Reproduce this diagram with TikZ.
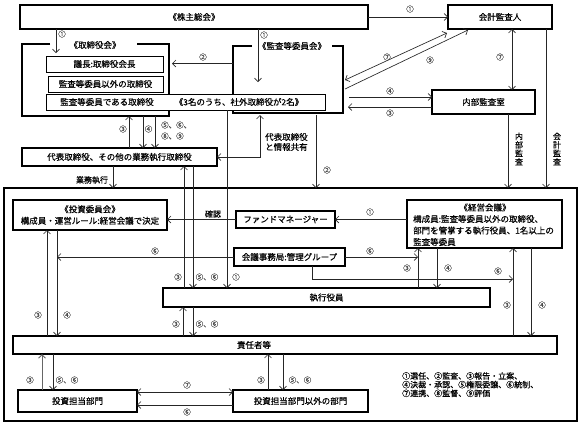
\documentclass[tikz,border=0pt]{standalone}
\usepackage{fontspec}
\setmainfont{Noto Sans CJK JP}[FakeBold=0.4,AutoFakeBold=0.4]
\usetikzlibrary{arrows.meta,calc}
\begin{document}
\begin{tikzpicture}[x=1pt,y=-1pt,
  bx/.style={draw,line width=1.5pt,fill=white,inner sep=0pt,outer sep=0pt,font=\fontsize{8.5}{11.5}\selectfont},
  ib/.style={draw,line width=0.7pt,fill=white,inner sep=0pt,outer sep=0pt,font=\fontsize{8.5}{11.5}\selectfont},
  frame/.style={line width=1.5pt},
  arr/.style={-{Straight Barb[length=3.5pt,width=7pt]},line width=0.65pt,black!85},
  darr/.style={{Straight Barb[length=3.5pt,width=7pt]}-{Straight Barb[length=3.5pt,width=7pt]},line width=0.65pt,black!85},
  lb/.style={font=\fontsize{7.5}{8}\selectfont,inner sep=0pt,text=black!70},
  tx/.style={font=\fontsize{8.5}{10}\selectfont,inner sep=0pt},
  sx/.style={font=\fontsize{8}{8.5}\selectfont,inner sep=0pt},
]
\useasboundingbox[fill=white] (0,0) rectangle (587,426);

% ---------- top area ----------
\node[bx,minimum width=348pt,minimum height=24pt] (kabu) at (194,17) {《株主総会》};
\node[bx,minimum width=104pt,minimum height=24pt] (kaikei) at (500,17) {会計監査人};

% board of directors frame
\node[inner sep=0pt,outer sep=0pt,minimum width=147pt,minimum height=72pt] (tori) at (95.5,80) {};
\draw[frame] ([xshift=28pt]tori.north west) -- (tori.north west) -- (tori.south west) -- (tori.south east) -- (tori.north east) -- ([xshift=-32pt]tori.north east);
\node[tx] (toriT) at (95,45) {《取締役会》};

% audit committee frame
\node[inner sep=0pt,outer sep=0pt,minimum width=110pt,minimum height=67pt] (kansa) at (288,79.5) {};
\draw[frame] ([xshift=19pt]kansa.north west) -- (kansa.north west) -- (kansa.south west) -- (kansa.south east) -- (kansa.north east) -- ([xshift=-11pt]kansa.north east);
\node[tx] (kansaT) at (292,46) {《監査等委員会》};

\node[ib,minimum width=117pt,minimum height=16pt] (gicho) at (104.5,64) {議長:取締役会長};
\node[ib,minimum width=115pt,minimum height=16pt] (igai) at (105.5,84) {監査等委員以外の取締役};
\node[ib,minimum width=279pt,minimum height=16pt] (dearu) at (185.5,102) {};
\node[tx] (dearuA) at (107,102) {監査等委員である取締役};
\node[tx] (dearuB) at (239,102) {《3名のうち、社外取締役が2名》};

\node[bx,minimum width=103pt,minimum height=24pt] (naibu) at (483.5,102) {内部監査室};
\node[bx,minimum width=195pt,minimum height=18pt] (daihyo) at (119.5,157) {代表取締役、その他の業務執行取締役};

% ---------- lower area ----------
\node[draw,line width=1.5pt,inner sep=0pt,outer sep=0pt,minimum width=573pt,minimum height=233pt] (big) at (290.5,304.5) {};
\node[bx,minimum width=154pt,minimum height=30pt,align=center] (toushi) at (90,215) {《投資委員会》\\構成員・運営ルール:経営会議で決定};
\node[bx,minimum width=99pt,minimum height=17pt] (fund) at (285.5,219.5) {ファンドマネージャー};
\node[bx,minimum width=111pt,minimum height=18pt] (jimu) at (289.5,257) {会議事務局:管理グループ};
\node[bx,minimum width=155pt,minimum height=48pt] (keiei) at (484.5,224) {};
\node[tx] (keieiT) at (485,207.5) {《経営会議》};
\node[tx,anchor=west,align=left,font=\fontsize{8.5}{11.5}\selectfont] (keieiB) at (413,230.5) {構成員:監査等委員以外の取締役、\\部門を管掌する執行役員、1名以上の\\監査等委員};
\node[bx,minimum width=327pt,minimum height=19pt] (shikko) at (326.5,297.5) {執行役員};
\node[bx,minimum width=544pt,minimum height=18pt] (sekinin) at (285,345) {};
\node[tx] (sekininT) at (254,345) {責任者等};
\node[bx,minimum width=119pt,minimum height=22pt] (tantou) at (77.5,401) {投資担当部門};
\node[bx,minimum width=135pt,minimum height=22pt] (igaibu) at (300.5,401) {投資担当部門以外の部門};

% ---------- helper coordinates ----------
\foreach \xx in {42,47,53,57,113,129,143,155,183,184,193,227,260,268,283,312,316,418,437,508,512,513,531,546}
  {\coordinate (X\xx) at (\xx,0);}
\foreach \yy in {157,279,392,405}
  {\coordinate (Y\yy) at (0,\yy);}
\coordinate (E1) at (56,53);
\coordinate (E2) at (258,82);
\coordinate (E3) at (172,63.5);
\coordinate (S4) at (349,97);
\coordinate (E5) at (348,107);

% ---------- connectors: top ----------
\draw[arr] (kabu.east) -- (kaikei.west);
\node[lb] at (410,9) {①};
\draw[arr] (kabu.south -| E1) -- (E1);
\node[lb] at (62,34) {①};
\draw[arr] (kabu.south -| E2) -- (E2);
\node[lb] at (264,35) {①};
\draw[arr] (kansa.west |- E3) -- (E3);
\node[lb] at (203,57) {②};
\draw[darr] ([shift={(2,34)}]kansa.north east) -- ([shift={(-1,4)}]kaikei.south west);
\node[lb] at (387,57) {⑦};
\draw[arr] ([shift={(2,43)}]kansa.north east) -- ([shift={(20,1)}]kaikei.south west);
\node[lb] at (430,60) {⑨};
\draw[darr] (kaikei.south -| X512) -- (naibu.north -| X512);
\node[lb] at (500,57) {⑦};
\draw[arr] (S4) -- (naibu.west |- S4);
\node[lb] at (390,91) {④};
\draw[arr] (naibu.west |- E5) -- (E5);
\node[lb] at (390,113) {③};
\draw[arr] (kaikei.south -| X546) -- (big.north -| X546);
\node[sx,align=center] (kaikeiL) at (557,149) {会\\計\\監\\査};
\draw[arr] (naibu.south -| X508) -- (big.north -| X508);
\node[sx,align=center] (naibuL) at (519,149) {内\\部\\監\\査};
\draw[arr] ([yshift=-2pt]kansa.south -| X316) -- (big.north -| X316);
\node[lb] at (327,170) {②};
\draw[darr] ([yshift=-2pt]kansa.south -| X260) -- (X260 |- Y157) -- (daihyo.east |- Y157);
\node[tx,anchor=west,align=left] (joho) at (265,142) {代表取締役\\と情報共有};

\draw[arr] (daihyo.north -| X129) -- (tori.south -| X129);
\node[lb] at (123,129) {③};
\draw[arr] (tori.south -| X143) -- (daihyo.north -| X143);
\node[lb] at (148.5,129) {④};
\draw[arr] (tori.south -| X155) -- (daihyo.north -| X155);
\node[lb,anchor=west] at (161,125) {⑤、⑥、};
\node[lb,anchor=west] at (161,136) {⑧、⑨};
\draw[arr] (daihyo.south -| X113) -- (big.north -| X113);
\node[sx] (gyomu) at (92,180) {業務執行};

\draw[arr] (shikko.north -| X184) -- (daihyo.south -| X184);
\node[lb] at (178,277) {③};
\draw[arr] (daihyo.south -| X193) -- (shikko.north -| X193);
\node[lb] at (207,277) {⑤、⑥};
\draw[arr] (dearu.south -| X227) -- (shikko.north -| X227);
\node[lb] at (236,277) {①};

% ---------- connectors: lower ----------
\draw[arr] (fund.west) -- (toushi.east |- fund.west);
\node[sx] (kakunin) at (213,214) {確認};
\draw[arr] (keiei.west |- fund.east) -- (fund.east);
\node[lb] at (370,212) {①};
\draw[arr] (jimu.west) -- (X57 |- jimu.west);
\node[lb] at (155,251) {⑥};
\draw[arr] (jimu.east) -- (X418 |- jimu.east);
\node[lb] at (370,251) {⑥};
\draw[arr] (jimu.south -| X312) -- (X312 |- Y279) -- (X513 |- Y279);
\node[lb] at (498,271) {⑥};

\draw[arr] (shikko.north -| X418) -- (keiei.south -| X418);
\node[lb] at (407,268) {③};
\draw[arr] (keiei.south -| X437) -- (shikko.north -| X437);
\node[lb] at (448,268) {④};
\draw[arr] (sekinin.north -| X513) -- (keiei.south -| X513);
\node[lb] at (507,305) {③};
\draw[arr] (keiei.south -| X531) -- (sekinin.north -| X531);
\node[lb] at (542,305) {④};

\draw[arr] (sekinin.north -| X47) -- (toushi.south -| X47);
\node[lb] at (38,315) {③};
\draw[arr] (toushi.south -| X57) -- (sekinin.north -| X57);
\node[lb] at (67,315) {④};
\draw[arr] (sekinin.north -| X183) -- (shikko.south -| X183);
\node[lb] at (176,324) {③};
\draw[arr] (shikko.south -| X193) -- (sekinin.north -| X193);
\node[lb] at (207,324) {⑤、⑥};

\draw[arr,line width=1pt,black!60] (tantou.north -| X42) -- (sekinin.south -| X42);
\node[lb] at (30,380) {③};
\draw[arr] (sekinin.south -| X53) -- (tantou.north -| X53);
\node[lb] at (67,380) {⑤、⑥};
\draw[arr] (igaibu.north -| X268) -- (sekinin.south -| X268);
\node[lb] at (261,380) {③};
\draw[arr] (sekinin.south -| X283) -- (igaibu.north -| X283);
\node[lb] at (300,380) {⑤、⑥};

\draw[darr] (tantou.east |- Y392) -- (igaibu.west |- Y392);
\node[lb] at (187,385) {⑦};
\draw[arr] (igaibu.west |- Y405) -- (tantou.east |- Y405);
\node[lb] at (187,412) {⑥};

\node[anchor=north west,align=left,inner sep=0pt,font=\fontsize{8}{8.7}\selectfont] (legend) at (402,372)
  {①選任、②監査、③報告・立案、\\④決裁・承認、⑤権限委譲、⑥統制、\\⑦連携、⑧監督、⑨評価};
\end{tikzpicture}
\end{document}
